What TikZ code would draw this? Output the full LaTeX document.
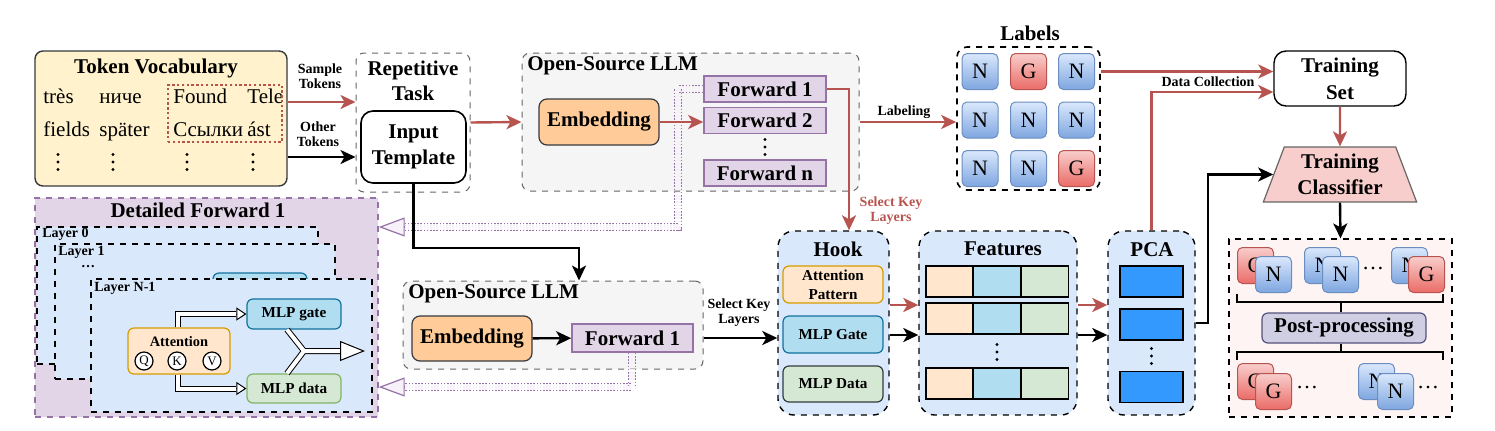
\documentclass[tikz,border=0pt]{standalone}
\usepackage{fontspec}
\setmainfont{Liberation Serif}
\usetikzlibrary{arrows.meta,shapes.geometric}

\definecolor{vocabFill}{HTML}{FFF2CC}
\definecolor{redLine}{HTML}{B85450}
\definecolor{llmFill}{HTML}{F5F5F5}
\definecolor{llmLine}{HTML}{666666}
\definecolor{embFill}{HTML}{FFCC99}
\definecolor{embLine}{HTML}{36393D}
\definecolor{fwdFill}{HTML}{E1D5E7}
\definecolor{fwdLine}{HTML}{9673A6}
\definecolor{hookFill}{HTML}{DAE8FC}
\definecolor{attFill}{HTML}{FFE6CC}
\definecolor{attLine}{HTML}{D79B00}
\definecolor{gateFill}{HTML}{B1DDF0}
\definecolor{gateLine}{HTML}{10739E}
\definecolor{dataFill}{HTML}{D5E8D4}
\definecolor{dataLine}{HTML}{82B366}
\definecolor{pcaFill}{HTML}{3399FF}
\definecolor{clsFill}{HTML}{F8CECC}
\definecolor{postFill}{HTML}{FFF4F4}
\definecolor{ppFill}{HTML}{D0CEE2}
\definecolor{ppLine}{HTML}{56517E}
\definecolor{nTop}{HTML}{DAE8FC}
\definecolor{nBot}{HTML}{7EA6E0}
\definecolor{nLine}{HTML}{6C8EBF}
\definecolor{gTop}{HTML}{F8CECC}
\definecolor{gBot}{HTML}{EA6B66}
\definecolor{purpTip}{HTML}{F7F1FA}

\begin{document}
\begin{tikzpicture}[
            x=0.5pt, y=-0.5pt,                 % pixel grid of the figure
            every node/.style={inner sep=0pt, align=center,
                font=\bfseries\fontsize{10.5}{13}\selectfont},
            wh/.style 2 args={minimum width=#1pt, minimum height=#2pt},
            lbl/.style={font=\bfseries\fontsize{7}{7.5}\selectfont},
            word/.style={font=\fontsize{10.5}{12}\selectfont, anchor=base west},
            vdts/.style={minimum width=3pt, minimum height=9.5pt,
                path picture={\foreach \d in {-3.75,0,3.75}
                    \fill ([yshift=\d pt]path picture bounding box.center) circle (0.85pt);}},
            dashbox/.style={draw=llmLine, dashed, fill=llmFill, rounded corners=4pt, line width=0.5pt},
            panel/.style={draw, dashed, fill=hookFill, rounded corners=8pt, line width=0.7pt},
            layerbox/.style={draw, dashed, fill=hookFill, line width=0.6pt},
            emb/.style={draw=embLine, fill=embFill, rounded corners=4pt, line width=0.6pt},
            fwd/.style={draw=fwdLine, fill=fwdFill, line width=0.8pt},
            att/.style={draw=attLine, fill=attFill, rounded corners=3pt, line width=0.6pt},
            gate/.style={draw=gateLine, fill=gateFill, rounded corners=3pt, line width=0.6pt},
            mlpdata/.style={draw=dataLine, fill=dataFill, rounded corners=3pt, line width=0.6pt},
            cell/.style={draw, line width=0.7pt, wh={23.5}{15.5}},
            pcabar/.style={draw, fill=pcaFill, line width=0.7pt, wh={31.5}{15.5}},
            ncard/.style={draw=nLine, top color=nTop, bottom color=nBot, rounded corners=2.5pt,
                minimum size=18pt, line width=0.5pt, font=\fontsize{11}{12}\selectfont},
            gcard/.style={ncard, draw=redLine, top color=gTop, bottom color=gBot},
            arr/.style={-{Stealth[length=7.5pt, width=7pt, inset=2pt]}, line width=1.2pt},
            redarr/.style={arr, draw=redLine},
            dbl/.style={draw=black, line width=0.5pt, double=white, double distance=2pt},
            htip/.style={-{Triangle[open, fill=white, length=5pt, width=6.5pt]}, line width=0.5pt},
            ytip/.style={-{Triangle[open, fill=white, length=12.5pt, width=10pt]}, line width=0.5pt},
            purp/.style={draw=fwdLine, dash pattern=on 0.8pt off 0.8pt, line width=0.7pt, double=purpTip, double distance=2.6pt},
            ptip/.style={-{Triangle[fill=purpTip, length=13pt, width=9.5pt]}, draw=fwdLine, line width=0.6pt}
        ]
            \useasboundingbox (0,0) rectangle (1495,430);

            % token vocabulary
            \node[draw=embLine, fill=vocabFill, rounded corners=4pt, line width=0.7pt, wh={126}{67.5}] (vocab) at (161,118.5) {};
            \node (vocabT) at (156,68) {Token Vocabulary};
            \node[word] (tk1) at (43,103) {très};
            \node[word] (tk2) at (99,103) {ниче};
            \node[word] (tk3) at (173,103) {Found};
            \node[word] (tk4) at (247,103) {Tele};
            \node[word] (tk5) at (43,136) {fields};
            \node[word] (tk6) at (99,136) {später};
            \node[word] (tk7) at (173,136) {Ссылки};
            \node[word] (tk8) at (247,136) {ást};
            \node[vdts] (vd1) at (58,162) {};
            \node[vdts] (vd2) at (113,162) {};
            \node[vdts] (vd3) at (187,162) {};
            \node[vdts] (vd4) at (253,162) {};
            \node[draw=redLine, dash pattern=on 1.2pt off 1.2pt, line width=1pt, wh={57}{28.5}] (sample) at (225,113.5) {};

            % repetitive task
            \node[dashbox, fill=white, wh={57}{69.5}] (rep) at (413,122.5) {};
            \node[font=\bfseries\fontsize{10.5}{12.5}\selectfont] (repT) at (413,80.5) {Repetitive\\Task};
            \node[draw, rounded corners=6pt, line width=0.8pt, wh={52.5}{36}] (tmpl) at (413.5,147) {Input\\Template};

            % open-source LLM (top)
            \node[dashbox, wh={168.5}{69}] (llmA) at (690.5,122) {};
            \node[anchor=west] (llmAT) at (527,66) {Open-Source LLM};
            \node[emb, wh={60}{23}] (embA) at (599,122) {Embedding};
            \node[fwd, wh={61}{13}] (fA1) at (765,89) {Forward 1};
            \node[fwd, wh={61}{13}] (fA2) at (765,120.5) {Forward 2};
            \node[vdts] (fAd) at (765,147) {};
            \node[fwd, wh={61}{13}] (fAn) at (765,173) {Forward n};

            % labels
            \node[draw, dashed, line width=0.8pt, rounded corners=5pt, wh={71.5}{71.5}] (lab) at (1028.5,118.5) {};
            \node (labT) at (1030,33) {Labels};
            \node[ncard] (lb11) at (980,71.5) {N};
            \node[gcard] (lb12) at (1028.5,71.5) {G};
            \node[ncard] (lb13) at (1076.5,71.5) {N};
            \node[ncard] (lb21) at (980,120) {N};
            \node[ncard] (lb22) at (1028.5,120) {N};
            \node[ncard] (lb23) at (1076.5,120) {N};
            \node[ncard] (lb31) at (980,168.5) {N};
            \node[ncard] (lb32) at (1028.5,168.5) {N};
            \node[gcard] (lb33) at (1076.5,168.5) {G};

            % training
            \node[draw, rounded corners=6pt, line width=0.7pt, wh={66}{27.5}, font=\bfseries\fontsize{10.5}{13.5}\selectfont] (tset) at (1340,78.5) {Training\\Set};
            \node[trapezium, trapezium angle=68.6, trapezium stretches=true, draw=llmLine, fill=clsFill,
                line width=0.6pt, wh={77}{27.5}] (cls) at (1340,174.5) {Training\\Classifier};

            % detailed forward 1
            \node[draw=fwdLine, dashed, fill=fwdFill, line width=0.7pt, wh={171.5}{109.5}] (detail) at (206.5,307.5) {};
            \node (detailT) at (198,210) {Detailed Forward 1};
            \node[layerbox, wh={140.5}{68.5}] (ly0) at (177.5,295.5) {};
            \node[lbl, anchor=west] (ly0T) at (42,234) {Layer 0};
            \node[layerbox, wh={140}{67.5}] (ly1) at (195,311.5) {};
            \node[lbl, anchor=west] (ly1T) at (58,252) {Layer 1};
            \node[lbl] (lyDots) at (88,267) {\dots};
            \node[gate, wh={47}{15}] (gate1) at (260,288) {};
            \node[layerbox, wh={140.5}{66.5}] (lyN) at (231.5,345.5) {};
            \node[lbl, anchor=west] (lyNT) at (94,288) {Layer N-1};
            \node[att, wh={51}{23}] (attn) at (179,351) {};
            \node[font=\bfseries\fontsize{7.2}{8}\selectfont] (attnT) at (179,342) {Attention};
            \node[circle, draw, fill=white, line width=0.6pt, minimum size=9pt, font=\fontsize{6.5}{7}\selectfont] (q) at (144,361) {Q};
            \node[circle, draw, fill=white, line width=0.6pt, minimum size=9pt, font=\fontsize{6.5}{7}\selectfont] (k) at (177,361) {K};
            \node[circle, draw, fill=white, line width=0.6pt, minimum size=9pt, font=\fontsize{6.5}{7}\selectfont] (v) at (212,361) {V};
            \node[gate, wh={47}{15}, font=\bfseries\fontsize{7.6}{8}\selectfont] (gateD) at (294,314) {MLP gate};
            \node[mlpdata, wh={47}{14.5}, font=\bfseries\fontsize{7.6}{8}\selectfont] (dataD) at (294,388.5) {MLP data};
            \draw[dbl] ([xshift=-0.5pt]attn.north) |- ([xshift=-5pt]gateD.west);
            \draw[htip] ([xshift=-5pt]gateD.west) -- (gateD.west);
            \draw[dbl] ([xshift=-0.5pt]attn.south) |- ([xshift=-5pt]dataD.west);
            \draw[htip] ([xshift=-5pt]dataD.west) -- (dataD.west);
            \coordinate (ym) at (304,351);
            \coordinate (yend) at (365,351);
            \draw[white, line width=2pt, preaction={draw=black, line width=3pt}]
                ([xshift=-3.5pt]gateD.south) -- (ym) -- ([xshift=-3.5pt]dataD.north)
                (ym) -- ([xshift=-12.5pt]yend);
            \draw[ytip] ([xshift=-12.5pt]yend) -- (yend);

            % open-source LLM (bottom)
            \node[dashbox, wh={150}{44}] (llmB) at (553,325) {};
            \node[anchor=west] (llmBT) at (408,294) {Open-Source LLM};
            \node[emb, wh={60}{22.5}] (embB) at (472,338.5) {Embedding};
            \node[fwd, wh={60.5}{14}] (fB1) at (632.5,338) {Forward 1};

            % hook, features, pca
            \node[panel, wh={55.5}{92}] (hook) at (833.5,323) {};
            \node (hookT) at (838,249) {Hook};
            \node[att, wh={50}{18.5}, font=\bfseries\fontsize{7.6}{9.5}\selectfont] (hAtt) at (833,284.5) {Attention\\Pattern};
            \node[gate, wh={50}{18.5}, font=\bfseries\fontsize{7.6}{9}\selectfont] (hGate) at (833,334.5) {MLP Gate};
            \node[mlpdata, draw=embLine, wh={50}{18}, font=\bfseries\fontsize{7.6}{9}\selectfont] (hData) at (833,384) {MLP Data};

            \node[panel, wh={79}{92}] (feat) at (998,323) {};
            \node (featT) at (1003,249) {Features};
            \node[cell, fill=attFill] (f11) at (949.5,281.5) {};
            \node[cell, fill=gateFill] (f12) at (997,281.5) {};
            \node[cell, fill=dataFill] (f13) at (1045,281.5) {};
            \node[cell, fill=attFill] (f21) at (949.5,318.5) {};
            \node[cell, fill=gateFill] (f22) at (997,318.5) {};
            \node[cell, fill=dataFill] (f23) at (1045,318.5) {};
            \node[vdts] (fDots) at (997,352) {};
            \node[cell, fill=attFill] (f31) at (949.5,383.5) {};
            \node[cell, fill=gateFill] (f32) at (997,383.5) {};
            \node[cell, fill=dataFill] (f33) at (1045,383.5) {};

            \node[panel, wh={43.5}{92}] (pca) at (1151.5,323) {};
            \node (pcaT) at (1152,250) {PCA};
            \node[pcabar] (pc1) at (1151.5,281.5) {};
            \node[pcabar] (pc2) at (1151.5,324.5) {};
            \node[vdts] (pcDots) at (1151.5,356) {};
            \node[pcabar] (pc3) at (1151.5,387) {};

            % post-processing
            \node[draw, dashed, fill=postFill, line width=0.6pt, wh={111.5}{89}] (post) at (1340.5,328) {};
            \node[gcard] (pa1) at (1255.5,265.5) {G};
            \node[ncard] (pa2) at (1273.5,274.5) {N};
            \node[ncard] (pb1) at (1322.5,265.5) {N};
            \node[ncard] (pb2) at (1340.5,274.5) {N};
            \node[font=\fontsize{11}{12}\selectfont] (pDots1) at (1373,269) {\dots};
            \node[ncard] (pc1b) at (1409.5,265.5) {N};
            \node[gcard] (pc2b) at (1426.5,274.5) {G};
            \node[draw=ppLine, fill=ppFill, rounded corners=3pt, line width=0.6pt, wh={82}{15}] (pp) at (1344,328) {Post-processing};
            \node[gcard] (qa1) at (1255.5,381.5) {G};
            \node[gcard] (qa2) at (1273.5,391.5) {G};
            \node[font=\fontsize{11}{12}\selectfont] (pDots2) at (1307,388) {\dots};
            \node[ncard] (qb1) at (1376.5,381.5) {N};
            \node[ncard] (qb2) at (1395.5,391.5) {N};
            \node[font=\fontsize{11}{12}\selectfont] (pDots3) at (1428,388) {\dots};
            \coordinate (bk1) at (1341,302);
            \coordinate (bk2) at (1341,352);
            \draw[line width=1.2pt] (1237,294) -- (1237,302) -- (1443,302) -- (1443,294);
            \draw[line width=1.2pt] (bk1) -- (bk1 |- pp.north);
            \draw[line width=1.2pt] (1237,360) -- (1237,352) -- (1443,352) -- (1443,360);
            \draw[line width=1.2pt] (bk2 |- pp.south) -- (bk2);

            % purple links to the detail
            \coordinate (pk) at (678,227);
            \coordinate (qk) at (632,387);
            \draw[purp] (fA1.west) -| (pk) -- ([xshift=13pt]pk -| detail.east);
            \draw[ptip] ([xshift=13pt]pk -| detail.east) -- (pk -| detail.east);
            \draw[purp] (qk |- fB1.south) -- (qk) -- ([xshift=13pt]qk -| detail.east);
            \draw[ptip] ([xshift=13pt]qk -| detail.east) -- (qk -| detail.east);

            % arrows
            \draw[redarr] ([yshift=8.25pt]vocab.east) -- ([yshift=8.25pt]vocab.east -| rep.west);
            \node[lbl] (smpT) at (320,76) {Sample\\Tokens};
            \draw[arr] ([yshift=-19.25pt]vocab.east) -- ([yshift=-19.25pt]vocab.east -| rep.west);
            \node[lbl] (othT) at (318,134) {Other\\Tokens};
            \draw[redarr] (rep.east) -- (llmA.west);
            \draw[redarr] (embA) -- (embA -| fA2.west);
            \coordinate (tb) at (579,248);
            \draw[arr] (tmpl.south) |- (tb) -- (tb |- llmB.north);
            \draw[arr] (embB) -- (fB1);
            \draw[arr] (llmB.east |- fB1) -- (hook.west |- fB1);
            \node[lbl] (sklB) at (739,313) {Select Key\\Layers};
            \draw[redarr] (fA1.east) -| ([xshift=7.75pt]hook.north);
            \node[lbl, text=redLine] (sklA) at (891,211) {Select Key\\Layers};
            \draw[redarr] (llmA.east |- embA) -- (lab.west |- embA);
            \node[lbl] (lblT) at (904,112) {Labeling};
            \draw[redarr] (lab.east |- lb11) -- (tset.west |- lb11);
            \draw[redarr] (pca.north) |- ([yshift=-6.75pt]tset.west);
            \node[lbl] (dcT) at (1208,82) {Data Collection};
            \draw[redarr] (tset.south) -- (cls.north);
            \draw[redarr] ([yshift=9pt]hook.east) -- ([yshift=9pt]feat.west);
            \draw[arr] ([yshift=-6pt]hook.east) -- ([yshift=-6pt]feat.west);
            \draw[redarr] ([yshift=9pt]feat.east) -- ([yshift=9pt]pca.west);
            \draw[arr] ([yshift=-6pt]feat.east) -- ([yshift=-6pt]pca.west);
            \draw[arr] (pca.east) -- ++(12,0) |- (cls.west);
            \draw[arr] (cls.south) -- (post.north);
        \end{tikzpicture}
\end{document}
